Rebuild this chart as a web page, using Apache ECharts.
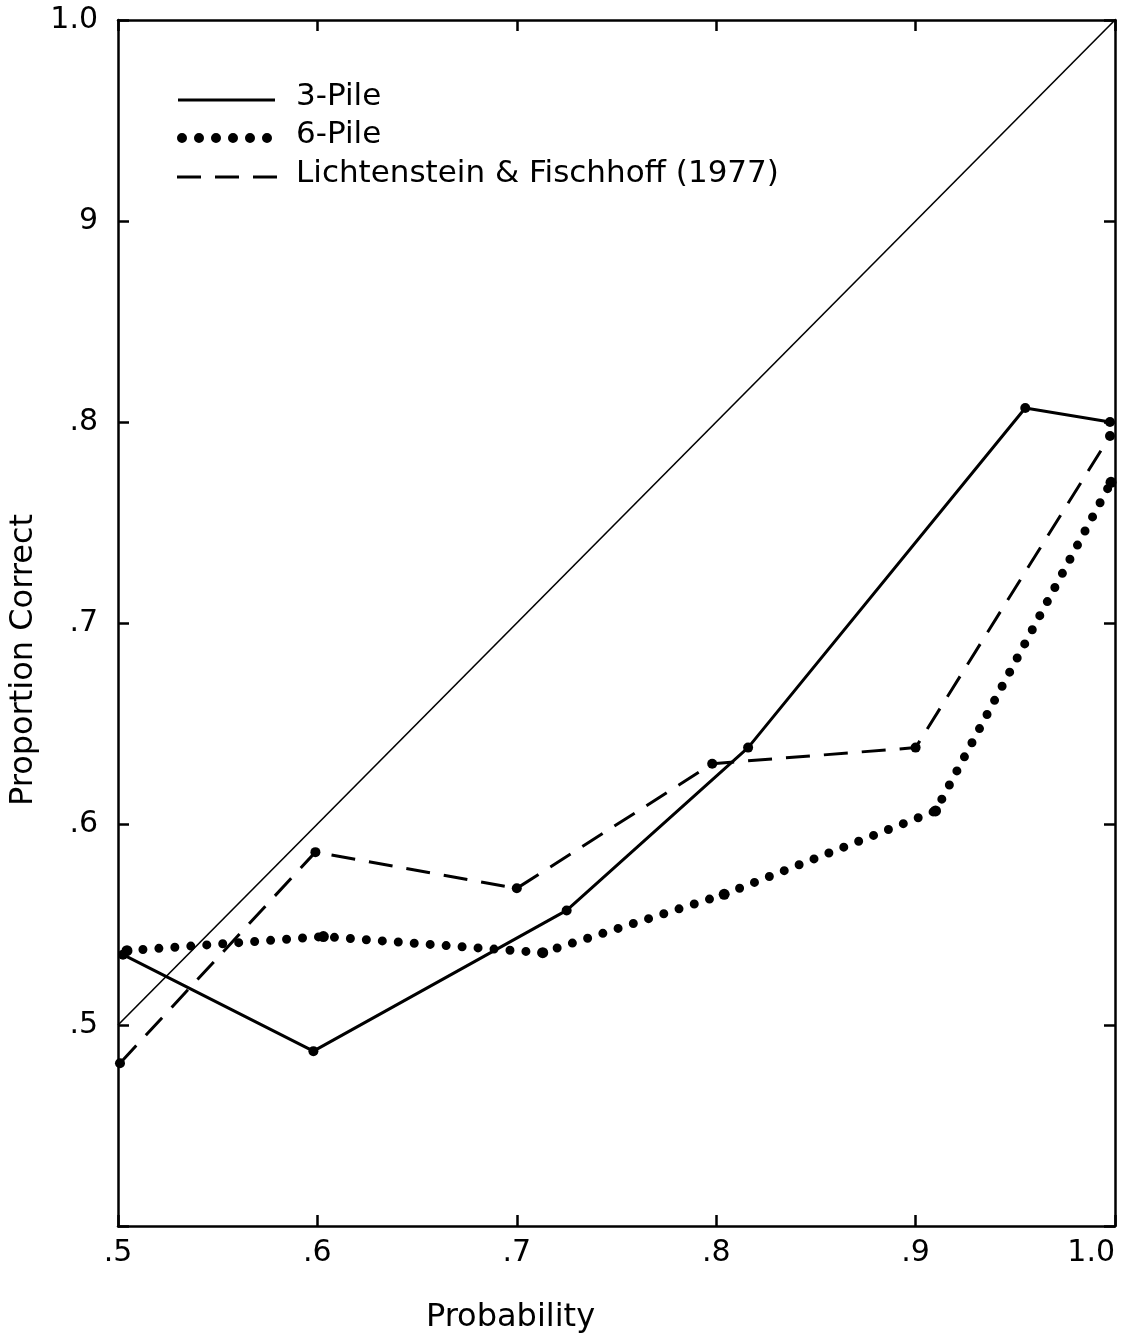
<!DOCTYPE html>
<html>
<head>
<meta charset="utf-8">
<script src="https://cdn.jsdelivr.net/npm/echarts@6/dist/echarts.min.js"></script>
<style>
  html, body { margin: 0; padding: 0; background: #fff; }
  #chart { width: 1130px; height: 1337px; }
</style>
</head>
<body>
<div id="chart"></div>
<script>
// values
const xTicks = [0.5, 0.6, 0.7, 0.8, 0.9, 1.0];
const yTicks = [0.4, 0.5, 0.6, 0.7, 0.8, 0.9, 1.0];

const diagX = [0.5, 1.0];
const diagY = [0.5, 1.0];

const threePileX = [0.5025, 0.598, 0.725, 0.816, 0.955, 0.9975];
const threePileY = [0.535, 0.487, 0.557, 0.638, 0.807, 0.800];

const sixPileX = [0.5045, 0.603, 0.713, 0.804, 0.910, 0.998];
const sixPileY = [0.537, 0.544, 0.536, 0.565, 0.6065, 0.770];

const lfX = [0.501, 0.599, 0.700, 0.798, 0.900, 0.9975];
const lfY = [0.481, 0.586, 0.568, 0.630, 0.638, 0.793];

const legendNames = ['3-Pile', '6-Pile', 'Lichtenstein & Fischhoff (1977)'];

const pairs = (xs, ys) => xs.map((x, i) => [x, ys[i]]);

const xLabel = (v) => (Math.abs(v - 1) < 1e-6 ? '1.0' : '.' + Math.round(v * 10));
const yLabel = (v) => {
  const d = Math.round(v * 10);
  if (d === 4) return '';
  if (d === 10) return '1.0';
  if (d === 9) return '9';
  return '.' + d;
};

const font = 'DejaVu Sans';
const axisLine = { show: true, lineStyle: { color: '#000', width: 2.5 } };
const tick = { show: true, inside: true, length: 11, lineStyle: { color: '#000', width: 2.5 } };

const chart = echarts.init(document.getElementById('chart'));

const option = {
  backgroundColor: '#fff',
  animation: false,
  grid: { left: 118, right: 15, top: 20, bottom: 111, outerBoundsMode: 'none', containLabel: false },
  xAxis: [
    {
      type: 'value', position: 'bottom', min: 0.5, max: 1.0, interval: 0.1,
      axisLine, axisTick: tick, splitLine: { show: false },
      axisLabel: { formatter: xLabel, color: '#000', fontSize: 30, fontFamily: font, margin: 12, alignMaxLabel: 'right' },
      name: 'Probability', nameLocation: 'middle', nameGap: 76,
      nameTextStyle: { color: '#000', fontSize: 32, fontFamily: font, padding: [0, 212, 0, 0] }
    },
    {
      type: 'value', position: 'top', min: 0.5, max: 1.0, interval: 0.1,
      axisLine, axisTick: tick, splitLine: { show: false }, axisLabel: { show: false }
    }
  ],
  yAxis: [
    {
      type: 'value', position: 'left', min: 0.4, max: 1.0, interval: 0.1,
      axisLine, axisTick: tick, splitLine: { show: false },
      axisLabel: { formatter: yLabel, color: '#000', fontSize: 30, fontFamily: font, margin: 20 },
      name: 'Proportion Correct', nameLocation: 'middle', nameRotate: 90, nameGap: 76,
      nameTextStyle: { color: '#000', fontSize: 32, fontFamily: font, padding: [0, 74, 0, 0] }
    },
    {
      type: 'value', position: 'right', min: 0.4, max: 1.0, interval: 0.1,
      axisLine, axisTick: tick, splitLine: { show: false }, axisLabel: { show: false }
    }
  ],
  series: [
    {
      name: 'diagonal', type: 'line', data: pairs(diagX, diagY),
      symbol: 'none', lineStyle: { color: '#000', width: 1.6 }
    },
    {
      name: legendNames[0], type: 'line', data: pairs(threePileX, threePileY),
      symbol: 'circle', symbolSize: 10, itemStyle: { color: '#000' },
      lineStyle: { color: '#000', width: 3 }
    },
    {
      name: legendNames[1], type: 'line', data: pairs(sixPileX, sixPileY),
      symbol: 'circle', symbolSize: 11, itemStyle: { color: '#000' },
      lineStyle: { color: '#000', width: 9, type: [0, 16], cap: 'round' }
    },
    {
      name: legendNames[2], type: 'line', data: pairs(lfX, lfY),
      symbol: 'circle', symbolSize: 10, itemStyle: { color: '#000' },
      lineStyle: { color: '#000', width: 3, type: [24, 14] }
    }
  ],
  graphic: [
    { type: 'line', shape: { x1: 178, y1: 100, x2: 275, y2: 100 }, style: { stroke: '#000', lineWidth: 3 } },
    { type: 'line', shape: { x1: 182, y1: 138, x2: 268, y2: 138 }, style: { stroke: '#000', lineWidth: 10, lineDash: [0, 17], lineCap: 'round' } },
    { type: 'line', shape: { x1: 177, y1: 177, x2: 278, y2: 177 }, style: { stroke: '#000', lineWidth: 3, lineDash: [24, 14] } },
    { type: 'text', left: 296, top: 81, style: { text: legendNames[0], fill: '#000', font: '31px "DejaVu Sans"' } },
    { type: 'text', left: 296, top: 119, style: { text: legendNames[1], fill: '#000', font: '31px "DejaVu Sans"' } },
    { type: 'text', left: 296, top: 158, style: { text: legendNames[2], fill: '#000', font: '31px "DejaVu Sans"' } }
  ]
};

chart.setOption(option);
</script>
</body>
</html>
